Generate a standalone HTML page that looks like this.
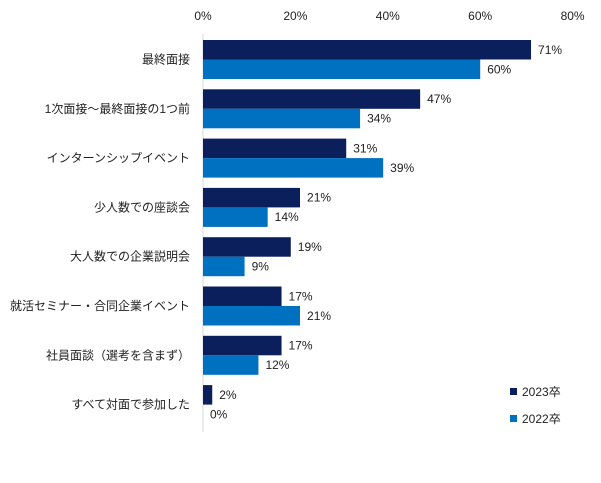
<!DOCTYPE html>
<html><head><meta charset="utf-8"><style>
body{margin:0;background:#fff;font-family:"Liberation Sans","Noto Sans CJK JP",sans-serif}
svg text{font-family:"Liberation Sans","Noto Sans CJK JP",sans-serif;font-size:12px;fill:#222}
</style></head><body>
<svg id="chart" width="601" height="478"></svg>
<script>
const categories=["最終面接","1次面接～最終面接の1つ前","インターンシップイベント","少人数での座談会","大人数での企業説明会","就活セミナー・合同企業イベント","社員面談（選考を含まず）","すべて対面で参加した"];
const series2023=[71,47,31,21,19,17,17,2];
const series2022=[60,34,39,14,9,21,12,0];
const ticks=[0,20,40,60,80];
const NS="http://www.w3.org/2000/svg";
const svg=document.getElementById('chart');
const x0=203,k=4.62,top0=40,pitch=49.3,bh=19.5;
const xs=v=>x0+v*k;
function mk(t,a,txt){const e=document.createElementNS(NS,t);for(const n in a)e.setAttribute(n,a[n]);if(txt!=null)e.textContent=txt;svg.appendChild(e);return e;}
ticks.forEach(t=>{const e=mk('text',{x:xs(t),y:20,'text-anchor':'middle'},t+'%');

});
const ax=mk('line',{x1:x0,x2:x0,y1:34,y2:432,stroke:'#d9d9d9','stroke-width':1});


categories.forEach((c,i)=>{
 const y=top0+i*pitch;
 const l=mk('text',{x:190,y:y+bh+4,'text-anchor':'end'},c);
 
 
 [[series2023[i],'#0a1f5c',0],[series2022[i],'#0070c0',1]].forEach(([v,col,j])=>{
  const r=mk('rect',{x:x0,y:y+j*bh,width:v*k,height:bh,fill:col});
  
  
  const t=mk('text',{x:xs(v)+7,y:y+j*bh+bh/2+4},v+'%');
  
  
 });
});
[['2023卒','#0a1f5c',388],['2022卒','#0070c0',415]].forEach(([n,c,y])=>{
 const s=mk('rect',{x:510,y:y,width:7,height:7,fill:c});
 
 
 const t=mk('text',{x:522,y:y+8},n);
 
 
});
</script>
</body></html>
